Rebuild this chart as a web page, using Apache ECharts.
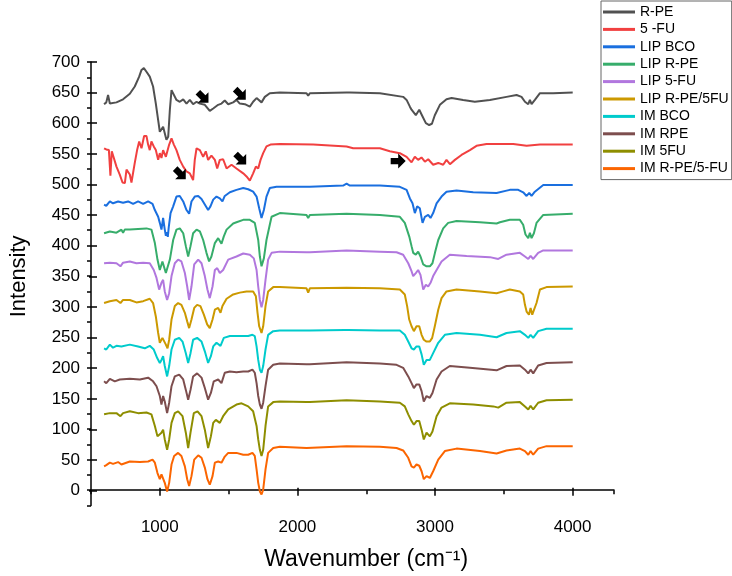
<!DOCTYPE html>
<html>
<head>
<meta charset="utf-8">
<script src="https://cdn.jsdelivr.net/npm/echarts@6/dist/echarts.min.js"></script>
<style>
  html, body { margin: 0; padding: 0; background: #fff; }
  #chart { width: 732px; height: 576px; }
</style>
</head>
<body>
<div id="chart"></div>
<script>
// FTIR spectra, offset stacked. each point is [wavenumber, intensity]
var names = ['R-PE', '5 -FU', 'LIP BCO', 'LIP R-PE', 'LIP 5-FU', 'LIP R-PE/5FU', 'IM BCO', 'IM RPE', 'IM 5FU', 'IM R-PE/5-FU'];
var colors = ['#515151', '#F14040', '#1A6FDF', '#37AD6B', '#B177DE', '#CC9900', '#00CBCC', '#7D4E4E', '#8E8E00', '#FB6501'];

var rpe = [[595,631],[611,634],[624,646],[637,632],[650,631],[685,634],[733,639],[782,648],[818,660],[850,676],[867,687],[884,690],[903,684],[927,676],[951,660],[971,632],[988,605],[1000,586],[1012,583],[1024,594],[1036,597],[1048,573],[1061,578],[1073,622],[1085,654],[1097,652],[1121,638],[1145,635],[1170,639],[1194,632],[1218,638],[1242,631],[1267,635],[1291,632],[1327,630],[1363,620],[1388,624],[1424,630],[1448,632],[1472,637],[1497,631],[1533,634],[1557,638],[1581,632],[1618,631],[1654,627],[1678,635],[1703,641],[1739,634],[1763,643],[1799,649],[1872,650],[2066,649],[2078,645],[2090,649],[2357,650],[2369,647],[2381,650],[2599,649],[2768,643],[2793,638],[2817,627],[2829,622],[2841,624],[2860,613],[2885,622],[2909,611],[2933,600],[2957,597],[2977,599],[2998,613],[3035,630],[3083,639],[3120,641],[3204,638],[3289,635],[3398,638],[3519,643],[3592,646],[3628,643],[3653,635],[3677,631],[3689,638],[3701,631],[3725,638],[3762,649],[3858,649],[4000,650]];

var fu = [[595,559],[611,557],[630,556],[641,514],[651,554],[660,551],[685,529],[709,516],[729,503],[746,502],[758,524],[770,526],[782,516],[794,503],[806,505],[818,535],[835,556],[850,570],[867,559],[886,579],[903,579],[915,565],[927,556],[939,570],[956,562],[971,556],[988,540],[1000,551],[1012,543],[1024,556],[1044,545],[1056,543],[1068,565],[1085,575],[1102,565],[1121,556],[1145,540],[1170,529],[1194,521],[1218,518],[1242,507],[1254,540],[1267,559],[1291,556],[1315,545],[1334,554],[1351,540],[1375,547],[1400,540],[1417,526],[1436,540],[1460,541],[1485,526],[1497,529],[1521,532],[1557,526],[1606,518],[1630,513],[1654,506],[1678,518],[1698,529],[1715,526],[1732,540],[1751,551],[1775,562],[1804,565],[1872,566],[2114,565],[2357,562],[2405,559],[2599,559],[2671,554],[2744,551],[2793,545],[2829,536],[2853,545],[2877,540],[2901,544],[2926,537],[2950,541],[2986,532],[3023,535],[3059,532],[3083,540],[3108,533],[3144,540],[3192,548],[3253,556],[3301,563],[3374,566],[3568,566],[3665,563],[3762,565],[4000,565]];

var lipBco = [[595,467],[611,465],[637,472],[660,469],[697,472],[733,470],[770,472],[806,468],[842,472],[879,468],[915,472],[947,468],[964,458],[988,447],[1000,437],[1012,426],[1024,445],[1036,426],[1044,416],[1052,422],[1058,414],[1065,430],[1078,453],[1097,464],[1121,480],[1145,481],[1170,472],[1194,458],[1213,452],[1230,472],[1254,480],[1279,481],[1303,476],[1327,467],[1351,458],[1368,464],[1388,475],[1412,480],[1436,477],[1455,472],[1472,481],[1509,487],[1557,491],[1606,494],[1642,492],[1678,488],[1703,480],[1722,461],[1739,445],[1756,458],[1775,480],[1799,494],[1848,496],[2066,496],[2078,494],[2090,496],[2332,498],[2357,501],[2381,498],[2599,498],[2744,496],[2793,491],[2817,477],[2836,469],[2853,453],[2870,464],[2889,461],[2909,437],[2926,447],[2950,450],[2967,445],[2986,453],[3011,469],[3047,480],[3083,488],[3156,490],[3277,487],[3447,486],[3543,491],[3604,491],[3640,487],[3665,481],[3684,486],[3701,481],[3725,488],[3786,499],[4000,499]];

var lipRpe = [[595,420],[637,423],[685,421],[721,426],[733,421],[745,426],[782,426],[842,427],[903,428],[939,426],[964,404],[983,377],[1000,360],[1019,374],[1031,371],[1044,355],[1056,358],[1073,377],[1097,409],[1121,426],[1145,428],[1170,420],[1189,399],[1206,382],[1223,399],[1242,420],[1267,426],[1291,423],[1315,409],[1339,388],[1358,374],[1375,382],[1400,404],[1424,412],[1448,403],[1465,415],[1485,426],[1533,436],[1557,438],[1606,442],[1654,442],[1690,437],[1715,409],[1727,382],[1739,366],[1756,379],[1775,409],[1799,434],[1812,447],[1872,453],[2066,450],[2078,445],[2090,450],[2357,452],[2599,450],[2744,447],[2780,437],[2793,437],[2812,415],[2829,399],[2841,388],[2860,385],[2877,390],[2894,382],[2914,369],[2938,366],[2962,366],[2981,371],[2999,388],[3023,409],[3059,428],[3095,437],[3156,440],[3326,438],[3447,436],[3471,438],[3543,442],[3616,442],[3640,434],[3657,418],[3677,412],[3689,421],[3701,412],[3718,420],[3737,437],[3786,450],[4000,452]];

var lip5fu = [[595,371],[637,372],[685,371],[714,366],[733,372],[782,374],[830,371],[879,372],[927,371],[956,360],[976,347],[995,328],[1012,339],[1024,344],[1036,325],[1053,311],[1068,322],[1085,350],[1109,371],[1133,377],[1157,374],[1182,355],[1199,333],[1213,311],[1230,333],[1250,369],[1279,377],[1303,371],[1327,350],[1346,328],[1363,314],[1383,333],[1400,360],[1417,363],[1436,355],[1460,360],[1497,377],[1557,382],[1606,387],[1654,385],[1683,379],[1703,360],[1715,333],[1727,311],[1739,299],[1751,311],[1768,344],[1787,377],[1812,388],[1872,390],[2066,389],[2078,386],[2090,389],[2357,392],[2599,390],[2720,389],[2768,385],[2805,371],[2829,358],[2841,350],[2860,355],[2877,360],[2894,352],[2914,328],[2933,336],[2950,333],[2967,339],[2986,350],[3011,360],[3047,374],[3107,385],[3229,383],[3398,381],[3459,378],[3519,385],[3616,388],[3653,382],[3677,378],[3694,383],[3713,378],[3749,388],[3786,392],[4000,392]];

var lipRpeFu = [[595,306],[637,309],[685,311],[714,306],[733,311],[782,311],[830,307],[879,309],[927,313],[951,306],[971,284],[988,257],[1000,241],[1019,249],[1031,252],[1044,238],[1056,232],[1068,246],[1085,279],[1109,301],[1133,306],[1157,303],[1182,290],[1199,276],[1213,265],[1230,279],[1250,298],[1271,303],[1295,301],[1320,287],[1344,271],[1363,265],[1383,279],[1400,295],[1424,298],[1441,290],[1455,301],[1485,313],[1533,320],[1581,323],[1630,325],[1678,325],[1698,317],[1710,290],[1722,268],[1739,257],[1751,268],[1768,301],[1787,325],[1824,332],[1872,332],[2066,330],[2078,323],[2090,330],[2357,331],[2599,330],[2744,328],[2780,320],[2797,301],[2812,279],[2829,268],[2846,260],[2865,268],[2885,268],[2902,254],[2918,246],[2938,243],[2962,243],[2979,249],[2998,268],[3023,295],[3047,314],[3083,325],[3156,328],[3326,325],[3447,322],[3495,325],[3543,328],[3616,325],[3640,320],[3653,303],[3665,292],[3682,287],[3694,298],[3706,287],[3718,290],[3737,306],[3762,328],[3810,332],[4000,333]];

var imBco = [[595,232],[611,230],[637,238],[660,233],[685,236],[721,235],[782,238],[842,235],[891,232],[927,236],[956,230],[981,216],[1000,208],[1012,213],[1024,219],[1036,203],[1053,186],[1068,203],[1085,230],[1109,246],[1141,249],[1165,243],[1189,224],[1206,208],[1223,224],[1242,246],[1271,249],[1303,243],[1327,227],[1351,208],[1371,219],[1388,235],[1412,241],[1441,236],[1465,249],[1509,252],[1581,252],[1642,252],[1673,254],[1690,252],[1703,235],[1715,213],[1727,197],[1739,192],[1751,203],[1768,230],[1787,254],[1824,260],[1872,261],[2066,261],[2078,258],[2090,261],[2345,262],[2357,265],[2369,262],[2599,261],[2744,261],[2780,254],[2805,243],[2829,232],[2846,230],[2865,235],[2885,235],[2902,222],[2918,205],[2938,213],[2962,213],[2986,224],[3023,241],[3071,254],[3156,257],[3326,254],[3447,250],[3519,257],[3616,260],[3653,254],[3677,249],[3694,254],[3713,249],[3749,260],[3810,264],[4000,264]];

var imRpe = [[595,178],[611,175],[637,182],[673,178],[709,181],[782,182],[855,181],[915,184],[951,178],[976,170],[1000,154],[1012,140],[1024,154],[1036,145],[1053,126],[1068,143],[1085,170],[1109,186],[1141,189],[1170,181],[1189,164],[1206,148],[1223,164],[1242,186],[1271,191],[1303,184],[1327,167],[1351,148],[1371,159],[1392,178],[1424,181],[1448,175],[1472,192],[1509,194],[1557,193],[1606,194],[1642,194],[1673,197],[1690,192],[1703,175],[1715,154],[1727,140],[1739,133],[1751,143],[1768,170],[1787,197],[1824,205],[1872,207],[2066,206],[2078,204],[2090,206],[2357,209],[2599,207],[2720,205],[2768,200],[2805,186],[2829,175],[2846,167],[2865,173],[2885,173],[2902,162],[2918,145],[2938,154],[2962,151],[2981,159],[3011,181],[3047,194],[3107,203],[3253,200],[3447,196],[3519,203],[3616,204],[3653,197],[3677,191],[3694,197],[3713,191],[3749,204],[3810,208],[4000,209]];

var im5fu = [[595,124],[637,126],[685,126],[714,121],[733,126],[782,129],[842,126],[903,127],[939,124],[964,105],[983,88],[1012,94],[1024,99],[1036,83],[1053,66],[1068,83],[1085,110],[1109,126],[1133,129],[1165,121],[1189,94],[1206,69],[1223,94],[1247,126],[1274,129],[1303,121],[1327,99],[1351,69],[1371,88],[1388,110],[1407,115],[1436,110],[1460,121],[1497,132],[1557,140],[1594,142],[1642,137],[1678,129],[1703,105],[1715,83],[1727,66],[1739,56],[1751,66],[1768,105],[1787,137],[1824,144],[1872,145],[2066,144],[2078,142],[2090,144],[2357,147],[2599,145],[2744,143],[2780,137],[2805,124],[2829,113],[2846,107],[2865,113],[2885,113],[2902,99],[2918,83],[2938,94],[2962,88],[2981,96],[3011,121],[3047,135],[3107,142],[3277,140],[3423,137],[3459,135],[3519,143],[3616,144],[3653,137],[3677,132],[3694,138],[3713,132],[3749,143],[3810,147],[4000,148]];

var imRpeFu = [[595,39],[611,41],[637,45],[660,43],[697,46],[721,42],[782,47],[855,46],[915,47],[947,50],[964,45],[983,28],[1000,18],[1012,26],[1024,28],[1036,12],[1053,-2],[1068,12],[1085,42],[1104,56],[1133,61],[1157,56],[1182,39],[1199,18],[1213,7],[1230,23],[1250,50],[1279,57],[1303,53],[1327,37],[1346,18],[1363,9],[1383,23],[1400,45],[1424,47],[1448,45],[1472,55],[1497,61],[1557,61],[1606,58],[1642,58],[1673,61],[1690,56],[1703,34],[1715,12],[1727,-2],[1739,-7],[1751,1],[1768,34],[1787,61],[1824,69],[1872,71],[2066,69],[2357,72],[2599,71],[2720,69],[2768,65],[2805,53],[2829,39],[2846,37],[2865,42],[2885,40],[2902,31],[2918,18],[2938,23],[2962,20],[2986,31],[3023,50],[3071,64],[3156,68],[3326,64],[3447,60],[3519,65],[3616,68],[3653,64],[3677,58],[3694,64],[3713,58],[3749,68],[3810,72],[4000,72]];

var spectra = [rpe, fu, lipBco, lipRpe, lip5fu, lipRpeFu, imBco, imRpe, im5fu, imRpeFu];

// annotation arrows [wavenumber, intensity, rotation]
var arrowsRpe = [[1315, 642, -45], [1586, 647, -45]];
var arrowsFu = [[1150, 517, -45], [1589, 541, -45], [2732, 538, 0]];

var xMajorTicks = [1000, 4000];
var yMajorTicks = [0, 700];

GraphBind();

function GraphBind() {
    var chart = document.getElementById('chart');
    var myChart = echarts.init(chart);
    var font = 'Liberation Sans';
    var arrowPath = 'path://M0,4L7,4L7,0L14,7L7,14L7,10L0,10Z';
    var plain = function (v) { return String(v); };

    var series = spectra.map(function (d, i) {
        var s = {
            name: names[i],
            type: 'line',
            xAxisIndex: 0,
            yAxisIndex: 0,
            data: d,
            symbol: 'none',
            lineStyle: { width: 2, color: colors[i] },
            itemStyle: { color: colors[i] }
        };
        var arrows = i === 0 ? arrowsRpe : (i === 1 ? arrowsFu : null);
        if (arrows) {
            s.markPoint = {
                symbol: arrowPath,
                symbolSize: 15,
                silent: true,
                label: { show: false },
                itemStyle: { color: '#000' },
                data: arrows.map(function (a) {
                    return { coord: [a[0], a[1]], symbolRotate: a[2] };
                })
            };
        }
        return s;
    });

    var options = {
        animation: false,
        backgroundColor: '#fff',
        textStyle: { fontFamily: font, color: '#000' },

        // grid 0 = data and minor ticks, grid 1 = x major ticks, grid 2 = y major ticks
        grid: [
            { left: 91, right: 118, top: 62, bottom: 70.5 },
            { left: 159.8, right: 159.4, top: 62, bottom: 70.5 },
            { left: 91, right: 118, top: 62, bottom: 85.3 }
        ],

        legend: {
            data: names,
            orient: 'vertical',
            left: 601,
            top: 1,
            padding: [4, 3, 4, 2],
            icon: 'rect',
            itemGap: 3.4,
            itemWidth: 32,
            itemHeight: 3,
            backgroundColor: '#fff',
            borderColor: '#666',
            borderWidth: 1,
            borderRadius: 0,
            textStyle: { fontFamily: font, fontSize: 14, lineHeight: 14, color: '#000' }
        },

        xAxis: [
            {
                gridIndex: 0, type: 'value', min: 500, max: 4300, interval: 500,
                axisLine: { show: true, lineStyle: { color: '#000', width: 1.5 } },
                axisTick: { show: true, length: 4, lineStyle: { color: '#000', width: 1.5 } },
                axisLabel: { show: false },
                splitLine: { show: false }
            },
            {
                gridIndex: 1, type: 'value', min: xMajorTicks[0], max: xMajorTicks[1], interval: 1000,
                axisLine: { show: false },
                axisTick: { show: true, length: 8, lineStyle: { color: '#000', width: 1.5 } },
                axisLabel: { fontFamily: font, fontSize: 17, color: '#000', margin: 16, formatter: plain },
                splitLine: { show: false },
                name: 'Wavenumber (cm\u207B\u00B9)',
                nameLocation: 'middle',
                nameGap: 45,
                nameTextStyle: { fontFamily: font, fontSize: 23, color: '#000' }
            },
            { gridIndex: 2, type: 'value', show: false, min: 500, max: 4300 }
        ],

        yAxis: [
            {
                gridIndex: 0, type: 'value', min: -25, max: 700, interval: 25,
                axisLine: { show: true, lineStyle: { color: '#000', width: 1.5 } },
                axisTick: { show: true, length: 4, lineStyle: { color: '#000', width: 1.5 } },
                axisLabel: { show: false },
                splitLine: { show: false }
            },
            { gridIndex: 1, type: 'value', show: false, min: -25, max: 700 },
            {
                gridIndex: 2, type: 'value', min: yMajorTicks[0], max: yMajorTicks[1], interval: 50,
                axisLine: { show: false },
                axisTick: { show: true, length: 8, lineStyle: { color: '#000', width: 1.5 } },
                axisLabel: { fontFamily: font, fontSize: 17, color: '#000', margin: 17, formatter: plain },
                splitLine: { show: false },
                name: 'Intensity',
                nameLocation: 'middle',
                nameGap: 67,
                nameTextStyle: { fontFamily: font, fontSize: 22, color: '#000' }
            }
        ],

        series: series
    };
    myChart.setOption(options);
}
</script>
</body>
</html>
